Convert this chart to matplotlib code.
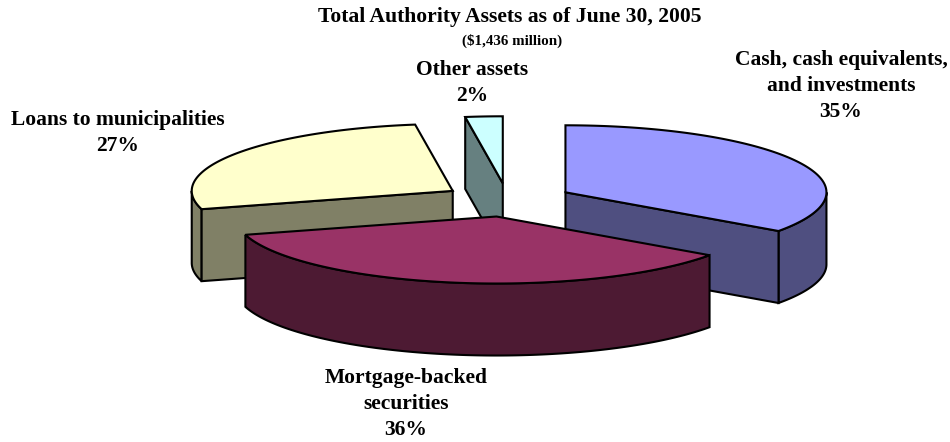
import numpy as np
import matplotlib.pyplot as plt
from matplotlib.patches import Polygon

plt.rcParams['font.family'] = ['Liberation Serif', 'DejaVu Serif']

labels = ["Cash, cash equivalents,\nand investments\n35%", "Mortgage-backed\nsecurities\n36%",
          "Loans to municipalities\n27%", "Other assets\n2%"]
# shares, the labels are rounded
shares = [34.8, 35.8, 27.1, 2.3]
top_colors = ["#9999FF", "#993366", "#FFFFCC", "#CCFFFF"]
side_colors = ["#4F4F80", "#4D1A33", "#808066", "#668080"]

# pie geometry in pixels, the reference is a tilted excel 3d pie
cx, cy = 507.5, 200
rx, ry = 261, 67
depth = 72
explode = 0.25

def rim(x0, y0, a0, a1):
    # clockwise angle from 12 o'clock
    t = np.radians(np.linspace(a0, a1, 200))
    return np.column_stack((x0 + rx * np.sin(t), y0 - ry * np.cos(t)))

def poly(ax, pts, color, z):
    ax.add_patch(Polygon(pts, closed=True, facecolor=color, edgecolor="black", lw=1.5,
                         joinstyle="miter", zorder=z))

f = plt.figure(figsize=(9.5, 4.42), dpi=100)
ax = plt.axes((0, 0, 1, 1))
ax.set_xlim(0, 950)
ax.set_ylim(442, 0)
ax.axis("off")

edges = np.concatenate(([0], np.cumsum(shares))) / np.sum(shares) * 360
# back to front
order = [3, 2, 0, 1]
for z, i in enumerate(order):
    a0, a1 = edges[i], edges[i + 1]
    mid = np.radians((a0 + a1) / 2)
    x0 = cx + explode * rx * np.sin(mid)
    y0 = cy - explode * ry * np.cos(mid)
    apex = np.array([[x0, y0]])
    down = np.array([0, depth])
    zz = z * 3

    # outer wall, only the part facing the viewer
    lo, hi = max(a0, 90), min(a1, 270)
    if lo < hi:
        r = rim(x0, y0, lo, hi)
        poly(ax, np.vstack((r, (r + down)[::-1])), side_colors[i], zz)

    # cut faces that can be seen
    if np.cos(np.radians(a1)) < 0 and np.sin(np.radians(a1)) > 0:
        p = rim(x0, y0, a1, a1)[:1]
        poly(ax, np.vstack((apex, p, p + down, apex + down)), side_colors[i], zz + 1)
    if np.sin(np.radians(a0)) < 0:
        p = rim(x0, y0, a0, a0)[:1]
        poly(ax, np.vstack((apex, p, p + down, apex + down)), side_colors[i], zz + 1)

    poly(ax, np.vstack((apex, rim(x0, y0, a0, a1))), top_colors[i], zz + 2)

ax.text(510, 17, "Total Authority Assets as of June 30, 2005", ha="center", va="center",
        fontsize=15.6, fontweight="bold")
ax.text(512, 41, "($1,436 million)", ha="center", va="center", fontsize=10.8, fontweight="bold")

label_pos = [(841, 86), (406, 404), (118, 133), (472, 83)]
for lab, (x, y) in zip(labels, label_pos):
    ax.text(x, y, lab, ha="center", va="center", fontsize=15.45, fontweight="bold",
            linespacing=1.38, zorder=50)

f.savefig("out.png", dpi=100)
